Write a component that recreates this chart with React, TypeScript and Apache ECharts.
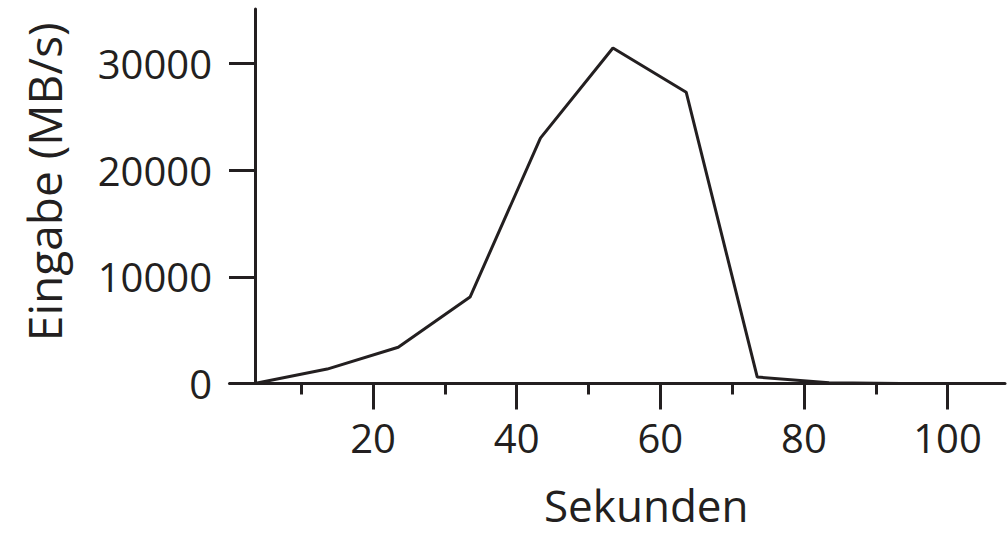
import React, { useEffect, useRef } from "react";
import * as echarts from "echarts";

const seconds = [3.5, 13.6, 23.5, 33.5, 43.3, 53.4, 63.6, 73.5, 83.5, 93.5, 103.5, 108];
const inputMBs = [0, 1350, 3400, 8100, 23000, 31450, 27300, 600, 80, 0, 0, 0];
const xMajorTicks = [20, 40, 60, 80, 100];
const xMinorTicks = [10, 30, 50, 70, 90];
const yTicks = [0, 10000, 20000, 30000];
const xName = "Sekunden";
const yName = "Eingabe (MB/s)";

const INK = "#231f20";
const FONT = "'Open Sans', 'Noto Sans', sans-serif";

export default function App() {
  const ref = useRef<HTMLDivElement>(null);
  useEffect(() => {
    if (!ref.current) return;
    const chart = echarts.init(ref.current, undefined, { renderer: "svg" });
    const gridRect = { left: 229.5, right: 3, top: 9, bottom: 149.5 };
    chart.setOption({
      animation: false,
      backgroundColor: "#ffffff",
      textStyle: { fontFamily: FONT, color: INK },
      grid: [
        { ...gridRect, outerBoundsMode: "none", containLabel: false },
        { ...gridRect, outerBoundsMode: "none", containLabel: false },
      ],
      xAxis: [
        {
          type: "value",
          gridIndex: 0,
          min: 0,
          max: 108,
          interval: 20,
          position: "bottom",
          name: xName,
          nameLocation: "middle",
          nameGap: 99,
          nameTextStyle: { fontSize: 44, lineHeight: 44, color: INK, fontFamily: FONT, padding: [0, 0, 0, 58] },
          axisLine: { show: true, onZero: false, lineStyle: { color: INK, width: 3 } },
          axisTick: { show: true, length: 26, inside: false, customValues: xMajorTicks, lineStyle: { color: INK, width: 3 } },
          axisLabel: {
            show: true,
            customValues: xMajorTicks,
            margin: 34,
            fontSize: 40,
            color: INK,
            fontFamily: FONT,
            formatter: (v: number) => String(v),
          },
          splitLine: { show: false },
        },
        {
          type: "value",
          gridIndex: 1,
          min: 0,
          max: 108,
          interval: 10,
          position: "bottom",
          axisLine: { show: false, onZero: false },
          axisTick: { show: true, length: 11, customValues: xMinorTicks, lineStyle: { color: INK, width: 3 } },
          axisLabel: { show: false },
          splitLine: { show: false },
        },
      ],
      yAxis: [
        {
          type: "value",
          gridIndex: 0,
          min: 0,
          max: 35100,
          interval: 10000,
          offset: -25.5,
          name: yName,
          nameLocation: "middle",
          nameGap: 188,
          nameRotate: 90,
          nameTextStyle: { fontSize: 46, color: INK, fontFamily: FONT, padding: [0, 0, 0, 29] },
          axisLine: { show: true, onZero: false, lineStyle: { color: INK, width: 3 } },
          axisTick: { show: true, length: 26, customValues: yTicks, lineStyle: { color: INK, width: 3 } },
          axisLabel: {
            show: true,
            customValues: yTicks,
            margin: 43,
            fontSize: 40,
            color: INK,
            fontFamily: FONT,
            formatter: (v: number) => String(v),
          },
          splitLine: { show: false },
        },
        {
          type: "value",
          gridIndex: 1,
          min: 0,
          max: 35100,
          show: false,
        },
      ],
      series: [
        {
          type: "line",
          xAxisIndex: 0,
          yAxisIndex: 0,
          data: seconds.map((s, i) => [s, inputMBs[i]]),
          showSymbol: false,
          symbol: "none",
          lineStyle: { color: INK, width: 3 },
          clip: false,
        },
      ],
    });
    return () => chart.dispose();
  }, []);
  return (
    <div
      ref={ref}
      style={{ position: "fixed", left: 0, top: 0, width: 1008, height: 533, background: "#fff" }}
    />
  );
}
